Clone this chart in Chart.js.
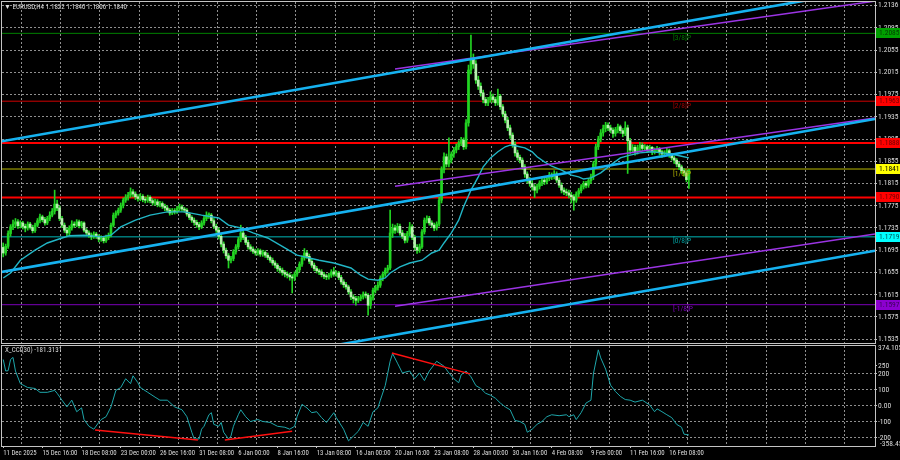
<!DOCTYPE html>
<html><head><meta charset="utf-8">
<script src="https://cdn.jsdelivr.net/npm/chart.js@4.4.1/dist/chart.umd.min.js"></script>
<style>
html,body{margin:0;padding:0;background:#000;width:900px;height:460px;overflow:hidden}
#main{position:absolute;left:0;top:0}
#cci{position:absolute;left:0;top:344px}
</style></head><body>
<canvas id="main" width="900" height="344"></canvas>
<canvas id="cci" width="900" height="116"></canvas>
<script>
// ---------------- DATA ----------------
const symbolName = 'EURUSD,H4';
const timeTickBars = [0,16,32,48,64,80,96,112,128,144,160,176,192,208,224,240,256,272];
const timeTickLabels = ['11 Dec 2025','15 Dec 16:00','18 Dec 08:00','23 Dec 00:00','26 Dec 16:00','31 Dec 08:00','6 Jan 00:00','8 Jan 16:00','13 Jan 08:00','16 Jan 00:00','20 Jan 16:00','23 Jan 08:00','28 Jan 00:00','30 Jan 16:00','4 Feb 08:00','9 Feb 00:00','11 Feb 16:00','16 Feb 08:00'];
const timeGridBars = [7.5,23.5,39.5,55.5,71.5,87.5,103.5,119.5,135.5,151.5,167.5,183.5,199.5,215.5,231.5,247.5,263.5,279.5,295.5,311.5,327.5,343.5];
const priceTicks = [1.2136,1.2095,1.2055,1.2015,1.1975,1.1935,1.1895,1.1855,1.1815,1.1775,1.1735,1.1695,1.1655,1.1615,1.1575,1.1535];
const priceMin = 1.15281, priceMax = 1.21414;
const barMin = -0.5, barMax = 356;

const firstOpen = 1.1700;
const closes = [
1.1690,1.1702,1.1725,1.1737,1.1742,1.1746,1.1739,1.1744,1.1738,1.1735,
1.1742,1.1736,1.1730,1.1740,1.1748,1.1755,1.1750,1.1744,1.1752,1.1758,
1.1765,1.1778,1.1771,1.1752,1.1740,1.1731,1.1726,1.1735,1.1742,1.1740,
1.1746,1.1739,1.1744,1.1731,1.1726,1.1722,1.1719,1.1724,1.1720,1.1715,
1.1717,1.1712,1.1718,1.1722,1.1740,1.1758,1.1762,1.1767,1.1775,1.1785,
1.1790,1.1794,1.1800,1.1796,1.1791,1.1788,1.1792,1.1786,1.1785,1.1790,
1.1784,1.1780,1.1782,1.1777,1.1779,1.1774,1.1771,1.1767,1.1762,1.1766,
1.1764,1.1770,1.1773,1.1769,1.1767,1.1760,1.1754,1.1749,1.1745,1.1741,
1.1737,1.1744,1.1752,1.1758,1.1758,1.1748,1.1738,1.1731,1.1720,1.1706,
1.1695,1.1685,1.1677,1.1680,1.1692,1.1701,1.1714,1.1726,1.1718,1.1709,
1.1701,1.1697,1.1693,1.1690,1.1694,1.1688,1.1691,1.1686,1.1682,1.1677,
1.1672,1.1668,1.1662,1.1659,1.1655,1.1652,1.1650,1.1647,1.1645,1.1652,
1.1660,1.1670,1.1681,1.1690,1.1684,1.1675,1.1668,1.1662,1.1658,1.1656,
1.1651,1.1648,1.1647,1.1650,1.1656,1.1652,1.1654,1.1646,1.1638,1.1633,
1.1629,1.1620,1.1611,1.1608,1.1605,1.1608,1.1611,1.1616,1.1614,1.1596,
1.1610,1.1623,1.1628,1.1632,1.1645,1.1652,1.1659,1.1663,1.1726,1.1735,
1.1731,1.1738,1.1726,1.1720,1.1713,1.1725,1.1737,1.1718,1.1700,1.1695,
1.1701,1.1728,1.1749,1.1752,1.1744,1.1740,1.1735,1.1742,1.1785,1.1840,
1.1863,1.1850,1.1857,1.1868,1.1875,1.1881,1.1888,1.1893,1.1881,1.1924,
1.2019,1.2040,1.2030,1.2001,1.1990,1.1978,1.1966,1.1960,1.1965,1.1971,
1.1966,1.1960,1.1972,1.1953,1.1940,1.1929,1.1915,1.1902,1.1885,1.1870,
1.1862,1.1857,1.1845,1.1832,1.1821,1.1815,1.1809,1.1803,1.1810,1.1816,
1.1821,1.1818,1.1824,1.1830,1.1827,1.1832,1.1821,1.1812,1.1803,1.1800,
1.1798,1.1794,1.1791,1.1785,1.1796,1.1802,1.1809,1.1815,1.1812,1.1820,
1.1827,1.1850,1.1881,1.1895,1.1906,1.1914,1.1920,1.1915,1.1911,1.1905,
1.1912,1.1917,1.1910,1.1905,1.1915,1.1892,1.1875,1.1880,1.1872,1.1879,
1.1884,1.1878,1.1881,1.1876,1.1880,1.1872,1.1875,1.1878,1.1872,1.1868,
1.1870,1.1874,1.1866,1.1861,1.1857,1.1850,1.1845,1.1838,1.1834,1.1822,1.1840];
const highs = [
1.1708,1.1706,1.1730,1.1741,1.1749,1.1752,1.1750,1.1748,1.1747,1.1742,
1.1746,1.1745,1.1740,1.1744,1.1752,1.1760,1.1758,1.1754,1.1756,1.1764,
1.1770,1.1803,1.1785,1.1775,1.1756,1.1744,1.1735,1.1739,1.1748,1.1746,
1.1750,1.1749,1.1747,1.1746,1.1734,1.1730,1.1726,1.1728,1.1727,1.1723,
1.1721,1.1720,1.1722,1.1726,1.1744,1.1762,1.1766,1.1771,1.1780,1.1789,
1.1795,1.1799,1.1807,1.1804,1.1800,1.1795,1.1797,1.1795,1.1791,1.1794,
1.1793,1.1788,1.1787,1.1786,1.1783,1.1782,1.1778,1.1775,1.1770,1.1770,
1.1770,1.1774,1.1778,1.1776,1.1772,1.1770,1.1763,1.1757,1.1753,1.1749,
1.1745,1.1748,1.1756,1.1764,1.1762,1.1761,1.1752,1.1742,1.1735,1.1724,
1.1710,1.1699,1.1689,1.1684,1.1696,1.1705,1.1718,1.1740,1.1730,1.1722,
1.1713,1.1705,1.1701,1.1697,1.1698,1.1697,1.1695,1.1694,1.1690,1.1685,
1.1681,1.1676,1.1671,1.1666,1.1663,1.1659,1.1656,1.1654,1.1651,1.1656,
1.1664,1.1674,1.1685,1.1698,1.1694,1.1688,1.1679,1.1672,1.1666,1.1661,
1.1660,1.1655,1.1652,1.1654,1.1660,1.1664,1.1658,1.1657,1.1650,1.1642,
1.1637,1.1632,1.1624,1.1615,1.1612,1.1612,1.1615,1.1620,1.1620,1.1617,
1.1614,1.1627,1.1632,1.1638,1.1649,1.1656,1.1663,1.1668,1.1767,1.1742,
1.1740,1.1743,1.1742,1.1731,1.1725,1.1729,1.1745,1.1741,1.1722,1.1705,
1.1706,1.1732,1.1753,1.1757,1.1756,1.1748,1.1744,1.1746,1.1790,1.1845,
1.1870,1.1868,1.1897,1.1872,1.1880,1.1886,1.1892,1.1898,1.1897,1.1930,
1.2028,1.2082,1.2048,1.2036,1.2008,1.1996,1.1983,1.1970,1.1970,1.1980,
1.1976,1.1970,1.1985,1.1975,1.1957,1.1945,1.1934,1.1920,1.1906,1.1890,
1.1875,1.1866,1.1861,1.1849,1.1836,1.1826,1.1820,1.1813,1.1814,1.1820,
1.1826,1.1825,1.1828,1.1835,1.1834,1.1838,1.1836,1.1825,1.1816,1.1807,
1.1805,1.1803,1.1799,1.1795,1.1800,1.1806,1.1813,1.1819,1.1819,1.1824,
1.1832,1.1855,1.1886,1.1900,1.1912,1.1920,1.1925,1.1924,1.1920,1.1915,
1.1916,1.1922,1.1920,1.1914,1.1926,1.1920,1.1896,1.1885,1.1884,1.1884,
1.1889,1.1888,1.1885,1.1884,1.1884,1.1882,1.1879,1.1882,1.1880,1.1875,
1.1874,1.1878,1.1877,1.1869,1.1864,1.1860,1.1853,1.1848,1.1842,1.1838,1.1840];
const lows = [
1.1683,1.1686,1.1698,1.1720,1.1732,1.1736,1.1734,1.1735,1.1733,1.1728,
1.1731,1.1733,1.1726,1.1727,1.1737,1.1744,1.1746,1.1740,1.1741,1.1748,
1.1755,1.1760,1.1766,1.1748,1.1736,1.1727,1.1720,1.1722,1.1731,1.1736,
1.1737,1.1735,1.1735,1.1728,1.1722,1.1718,1.1714,1.1716,1.1716,1.1710,
1.1711,1.1708,1.1709,1.1714,1.1719,1.1737,1.1753,1.1758,1.1763,1.1771,
1.1781,1.1785,1.1790,1.1791,1.1786,1.1783,1.1784,1.1782,1.1780,1.1781,
1.1780,1.1776,1.1776,1.1773,1.1773,1.1770,1.1766,1.1763,1.1758,1.1759,
1.1760,1.1761,1.1766,1.1765,1.1763,1.1756,1.1750,1.1745,1.1740,1.1736,
1.1732,1.1734,1.1740,1.1748,1.1752,1.1744,1.1734,1.1727,1.1715,1.1701,
1.1690,1.1680,1.1663,1.1672,1.1676,1.1688,1.1697,1.1710,1.1714,1.1705,
1.1697,1.1693,1.1689,1.1686,1.1686,1.1684,1.1684,1.1682,1.1678,1.1673,
1.1668,1.1663,1.1657,1.1654,1.1650,1.1647,1.1645,1.1641,1.1618,1.1640,
1.1648,1.1656,1.1666,1.1677,1.1680,1.1671,1.1664,1.1658,1.1654,1.1651,
1.1647,1.1644,1.1642,1.1643,1.1646,1.1648,1.1648,1.1642,1.1634,1.1628,
1.1625,1.1616,1.1606,1.1600,1.1596,1.1601,1.1604,1.1607,1.1609,1.1578,
1.1590,1.1605,1.1618,1.1623,1.1628,1.1640,1.1648,1.1654,1.1660,1.1718,
1.1725,1.1727,1.1722,1.1716,1.1708,1.1709,1.1721,1.1714,1.1696,1.1689,
1.1691,1.1698,1.1724,1.1744,1.1740,1.1736,1.1730,1.1731,1.1738,1.1780,
1.1834,1.1845,1.1845,1.1852,1.1862,1.1870,1.1876,1.1883,1.1876,1.1877,
1.1918,1.2012,1.2022,1.1995,1.1984,1.1972,1.1960,1.1955,1.1955,1.1961,
1.1961,1.1955,1.1956,1.1948,1.1935,1.1924,1.1910,1.1896,1.1880,1.1864,
1.1857,1.1852,1.1840,1.1826,1.1816,1.1810,1.1803,1.1790,1.1798,1.1805,
1.1811,1.1813,1.1814,1.1820,1.1822,1.1823,1.1817,1.1808,1.1798,1.1795,
1.1793,1.1789,1.1780,1.1767,1.1781,1.1791,1.1798,1.1805,1.1807,1.1808,
1.1815,1.1822,1.1845,1.1876,1.1890,1.1900,1.1908,1.1910,1.1906,1.1898,
1.1900,1.1906,1.1905,1.1899,1.1901,1.1833,1.1868,1.1870,1.1866,1.1868,
1.1874,1.1874,1.1874,1.1871,1.1873,1.1867,1.1868,1.1871,1.1866,1.1862,
1.1863,1.1866,1.1862,1.1857,1.1851,1.1845,1.1840,1.1833,1.1828,1.1818,1.1806];

const maBars = [0,3,7,13,18,24,27,33,40,44,48,54,60,67,74,81,88,92,97,102,108,115,120,129,135,142,146,149,153,156,158,162,166,171,175,178,180,183,186,188,191,194,196,199,202,205,207,210,213,216,218,221,224,228,232,235,237,240,244,248,252,256,260,265,269,273,277,280];
const maValues = [1.1645,1.1654,1.1677,1.1695,1.1708,1.1717,1.1721,1.1722,1.1719,1.1722,1.1737,1.1749,1.1758,1.1764,1.1764,1.1758,1.1753,1.1740,1.1735,1.1726,1.1717,1.1699,1.1686,1.1677,1.1672,1.1663,1.1650,1.1643,1.1641,1.1645,1.1654,1.1665,1.1672,1.1677,1.1690,1.1695,1.1708,1.1726,1.1749,1.1773,1.1803,1.1827,1.1845,1.1861,1.1872,1.1881,1.1884,1.1882,1.1879,1.1872,1.1863,1.1854,1.1846,1.1839,1.1830,1.1827,1.1823,1.1825,1.1834,1.1848,1.1861,1.1866,1.1870,1.1872,1.1870,1.1868,1.1864,1.1861];

// Murrey levels and manual horizontal lines
const levelValues = [1.2085,1.1963,1.1888,1.1841,1.1790,1.1719,1.1597];
const levelNames  = ['[3/8]P','[2/8]P','','[1/8]P','','[0/8]P','[-1/8]P'];
const murreyLabelBar = 273.5;

// channels (bar index, price)
const blueUpperBars = [-0.5,356], blueUpperValues = [1.1891,1.2166];
const blueMidBars   = [-0.5,356], blueMidValues   = [1.1656,1.1931];
const blueLowBars   = [120,356],  blueLowValues   = [1.1512,1.1694];
const purpUpperBars = [160,356],  purpUpperValues = [1.2021,1.2143];
const purpMidBars   = [160,356],  purpMidValues   = [1.1810,1.1933];
const purpLowBars   = [160,356],  purpLowValues   = [1.1594,1.1724];

// CCI(30)
const cciName = 'X_CCI(30)';
const cciBars = [0,1,2,3,4,5,7,10,13,15,18,21,22,24,26,28,30,32,33,35,37,39,40,42,44,46,48,50,52,53,55,56,59,62,64,67,70,73,75,77,78,80,81,82,84,85,86,88,89,90,92,93,94,96,97,99,101,104,106,109,112,115,117,119,120,122,124,126,128,130,132,135,136,139,141,143,145,147,149,151,153,154,156,158,159,161,163,166,168,170,172,174,177,180,182,184,186,187,189,191,193,195,197,199,201,203,205,207,209,211,213,214,216,218,220,222,224,227,230,231,233,234,236,238,240,241,243,244,246,248,250,252,254,256,258,261,264,266,267,269,271,273,275,277,278,280];
const cciValues = [290,218,220,290,303,218,139,115,109,85,85,97,79,36,-6,36,-36,-12,-85,-127,-145,-103,-85,-67,-6,97,115,170,139,188,145,115,85,55,36,36,-6,-24,-67,-164,-206,-206,-145,-127,-55,-42,-115,-127,-103,-164,-206,-188,-127,-55,-24,-67,-97,-85,-97,-103,-127,-133,-145,-127,-67,10,-12,-42,-36,-73,-103,-42,-73,-145,-218,-188,-158,-103,-127,-36,-12,36,127,279,327,267,206,218,170,206,158,218,279,248,206,170,145,194,218,182,127,109,79,67,48,18,-6,-24,-91,-97,-115,-164,-145,-115,-97,-67,-55,-61,-55,-67,-55,-85,-42,18,36,200,350,300,230,130,90,60,40,36,24,36,6,-36,-18,-36,-55,-73,-115,-133,-176,-181.3131];
const cciTicks = [250,200,100,0,-100,-200];
const cciMax = 374.1054, cciMin = -250, cciMinLabel = -358.458;
const div1Bars = [37.5,79.5], div1Values = [-150,-212];
const div2Bars = [90.5,118],  div2Values = [-212,-158];
const div3Bars = [158.7,190.6], div3Values = [330,200];

// ---------------- STYLE ----------------
const FONT = "'Roboto Condensed','Liberation Sans',Arial,sans-serif";
const TXT = '#dcdcdc', GRID = '#8f8f8f', FRAME = '#c4c4c4';
const levelLine = [{c:'#008000',w:1},{c:'#d00000',w:1},{c:'#ff0000',w:2},{c:'#b8b800',w:1},{c:'#ff0000',w:2},{c:'#00b8b8',w:1},{c:'#7a00b8',w:1}];
const tagBg = ['#00a000','#ff0000','#ff0000','#ffff00','#ff0000','#00ffff','#8c00d0'];
const tagFg = ['#003c00','#700000','#700000','#000000','#700000','#005050','#3a0058'];
const nameColor = ['#007800','#a00000','','#b0b000','','#00a0a0','#8000c0'];

Chart.defaults.font.family = FONT;

const opens = closes.map((c, i) => i === 0 ? firstOpen : closes[i - 1]);
const pts = (xs, ys) => xs.map((x, i) => ({x, y: ys[i]}));
const lineDS = (xs, ys, color, width, order) => ({type:'line', data: pts(xs, ys), borderColor: color, borderWidth: width, pointRadius: 0, tension: 0, fill: false, order});

const datasets = [];
levelValues.forEach((v, i) => datasets.push(lineDS([barMin, barMax], [v, v], levelLine[i].c, levelLine[i].w, 20)));
datasets.push({type:'bar', data: closes.map((c, i) => ({x: i, y: [lows[i], highs[i]]})), backgroundColor: '#22d422', barThickness: 1, grouped: false, order: 12});
datasets.push({type:'bar', data: closes.map((c, i) => ({x: i, y: [opens[i], c]})), backgroundColor: closes.map((c, i) => c >= opens[i] ? '#22d422' : '#b4f0ac'), barThickness: 2, minBarLength: 1, grouped: false, order: 11});
datasets.push(lineDS(maBars, maValues, '#22b6c6', 1.4, 8));
datasets.push(lineDS(purpUpperBars, purpUpperValues, '#9b34e4', 1.5, 5));
datasets.push(lineDS(purpMidBars, purpMidValues, '#9b34e4', 1.5, 5));
datasets.push(lineDS(purpLowBars, purpLowValues, '#9b34e4', 1.5, 5));
datasets.push(lineDS(blueUpperBars, blueUpperValues, '#16b2f0', 2.6, 4));
datasets.push(lineDS(blueMidBars, blueMidValues, '#16b2f0', 2.6, 4));
datasets.push(lineDS(blueLowBars, blueLowValues, '#16b2f0', 2.6, 4));

const noPadX = s => { s.height = 0; s.paddingLeft = 0; s.paddingRight = 0; };
const yFit = s => { s.width = 25; s.paddingTop = 0; s.paddingBottom = 0; };

const mainDeco = {
  id: 'mainDeco',
  afterDraw(chart) {
    const {ctx, chartArea: a, scales: {x, y}} = chart;
    ctx.save();
    ctx.strokeStyle = FRAME; ctx.lineWidth = 1; ctx.setLineDash([]);
    ctx.strokeRect(a.left - 0.5, a.top - 0.5, a.right - a.left + 1, a.bottom - a.top + 1);
    ctx.font = '7.5px ' + FONT; ctx.textBaseline = 'top'; ctx.textAlign = 'left';
    levelValues.forEach((v, i) => {
      if (!levelNames[i]) return;
      ctx.fillStyle = nameColor[i];
      ctx.fillText(levelNames[i], x.getPixelForValue(murreyLabelBar), y.getPixelForValue(v) + 1);
    });
    ctx.font = '7.5px ' + FONT; ctx.textBaseline = 'middle';
    levelValues.forEach((v, i) => {
      const py = Math.round(y.getPixelForValue(v));
      ctx.fillStyle = tagBg[i]; ctx.fillRect(a.right + 1, py - 5, 24, 10);
      ctx.fillStyle = tagFg[i]; ctx.fillText(v.toFixed(4), a.right + 4, py + 0.5);
    });
    const L = closes.length - 1;
    ctx.fillStyle = TXT; ctx.font = '7px ' + FONT;
    ctx.fillText('\u25BC ' + symbolName + ' ' + [opens[L], highs[L], lows[L], closes[L]].map(v => v.toFixed(4)).join(' '), 4, 7);
    ctx.restore();
  }
};

new Chart(document.getElementById('main'), {
  type: 'bar',
  data: {datasets},
  options: {
    animation: false, responsive: false, devicePixelRatio: 1,
    layout: {padding: {left: 2, top: 2, right: 0, bottom: 1}},
    plugins: {legend: {display: false}, tooltip: {enabled: false}},
    scales: {
      x: {type: 'linear', min: barMin, max: barMax, offset: false,
          afterBuildTicks: s => { s.ticks = timeGridBars.map(v => ({value: v})); },
          ticks: {display: false}, grid: {color: GRID, drawTicks: false, offset: false},
          border: {display: false, dash: [2, 2]}, afterFit: noPadX},
      y: {position: 'right', min: priceMin, max: priceMax,
          afterBuildTicks: s => { s.ticks = priceTicks.map(v => ({value: v})); },
          ticks: {autoSkip: false, color: TXT, padding: 1, font: {size: 7.5}, callback: v => v.toFixed(4)},
          grid: {color: GRID, drawTicks: true, tickLength: 2, tickColor: FRAME},
          border: {display: false, dash: [2, 2]}, afterFit: yFit}
    }
  },
  plugins: [mainDeco]
});

const cciDeco = {
  id: 'cciDeco',
  afterDraw(chart) {
    const {ctx, chartArea: a} = chart;
    ctx.save();
    ctx.strokeStyle = FRAME; ctx.lineWidth = 1;
    ctx.strokeRect(a.left - 0.5, a.top - 0.5, a.right - a.left + 1, a.bottom - a.top + 1);
    ctx.font = '7.5px ' + FONT; ctx.fillStyle = TXT; ctx.textBaseline = 'middle'; ctx.textAlign = 'left';
    ctx.fillText(cciMax.toFixed(4), a.right + 3, a.top + 2);
    ctx.fillText(String(cciMinLabel), a.right + 5, a.bottom - 2);
    ctx.font = '7px ' + FONT;
    ctx.fillText(cciName + ' ' + cciValues[cciValues.length - 1].toFixed(4), 5, a.top + 4);
    ctx.restore();
  }
};

new Chart(document.getElementById('cci'), {
  type: 'line',
  data: {datasets: [
    lineDS(cciBars, cciValues, '#1ea6aa', 1, 5),
    lineDS(div1Bars, div1Values, '#ff1010', 1.5, 2),
    lineDS(div2Bars, div2Values, '#ff1010', 1.5, 2),
    lineDS(div3Bars, div3Values, '#ff1010', 1.5, 2)
  ]},
  options: {
    animation: false, responsive: false, devicePixelRatio: 1,
    layout: {padding: {left: 2, top: 2, right: 0, bottom: 0}},
    plugins: {legend: {display: false}, tooltip: {enabled: false}},
    scales: {
      x: {type: 'linear', min: barMin, max: barMax, position: 'bottom',
          afterBuildTicks: s => { s.ticks = timeTickBars.map(v => ({value: v})); },
          ticks: {autoSkip: false, maxRotation: 0, minRotation: 0, align: 'start', padding: 1, color: TXT, font: {size: 6.8},
                  callback: (v, i) => timeTickLabels[i]},
          grid: {drawOnChartArea: false, drawTicks: true, tickLength: 2, tickColor: FRAME},
          border: {display: false},
          afterFit: s => { s.height = 14; s.paddingLeft = 0; s.paddingRight = 0; }},
      xg: {type: 'linear', axis: 'x', min: barMin, max: barMax, position: 'bottom',
          afterBuildTicks: s => { s.ticks = timeGridBars.map(v => ({value: v})); },
          ticks: {display: false}, grid: {color: GRID, drawTicks: false},
          border: {display: false, dash: [2, 2]}, afterFit: noPadX},
      y: {position: 'right', min: cciMin, max: cciMax,
          afterBuildTicks: s => { s.ticks = cciTicks.map(v => ({value: v})); },
          ticks: {autoSkip: false, color: TXT, padding: 1, font: {size: 7.5}, callback: v => v === 0 ? '0.00' : String(v)},
          grid: {color: c => (c.tick && c.tick.value === 250) ? 'rgba(0,0,0,0)' : GRID, drawTicks: true, tickLength: 2, tickColor: FRAME},
          border: {display: false, dash: [2, 2]}, afterFit: yFit}
    }
  },
  plugins: [cciDeco]
});
</script>
</body></html>
